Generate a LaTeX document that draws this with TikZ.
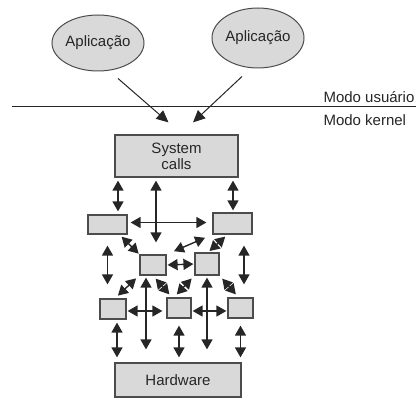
\documentclass[tikz,border=0pt]{standalone}
\usepackage{fontspec}
\setmainfont{Liberation Sans}
\usetikzlibrary{shapes.geometric,arrows.meta}
\definecolor{boxgray}{gray}{0.85}
\definecolor{linegray}{gray}{0.3}
\begin{document}
\begin{tikzpicture}[x=1pt, y=-1pt, font=\fontsize{15}{16}\selectfont, text=black!85,
		app/.style={ellipse, draw=linegray, fill=boxgray, line width=1pt, inner sep=0pt},
		blk/.style={rectangle, draw=linegray, fill=boxgray, line width=1.2pt, inner sep=0pt, align=center},
		dbl/.style={{Triangle[length=10pt,width=11pt]}-{Triangle[length=10pt,width=11pt]}, line width=1.4pt, draw=black!85},
		arr/.style={-{Triangle[length=12pt,width=11pt]}, line width=1pt, draw=black!85}]
		\useasboundingbox (0,0) rectangle (416,398);
		\node[app, minimum width=92pt, minimum height=56pt] (app1) at (98,43) {Aplicação};
		\node[app, minimum width=92pt, minimum height=60pt] (app2) at (258,38) {Aplicação};
		\draw[line width=1pt, draw=black!85] (12,107) -- (416,107);
		\node[anchor=west] (user) at (320,97) {Modo usuário};
		\node[anchor=west] (kern) at (320,120) {Modo kernel};
		\node[blk, minimum width=123pt, minimum height=42pt] (sys) at (176.5,156) {System\\calls};
		\node[blk, minimum width=39pt, minimum height=19pt] (a) at (107.5,224.5) {};
		\node[blk, minimum width=39pt, minimum height=21pt] (b) at (232.5,223.5) {};
		\node[blk, minimum width=26pt, minimum height=20pt] (c) at (153,265) {};
		\node[blk, minimum width=24pt, minimum height=22pt] (d) at (207,264) {};
		\node[blk, minimum width=26pt, minimum height=20pt] (e) at (113,309) {};
		\node[blk, minimum width=24pt, minimum height=20pt] (f) at (179,308) {};
		\node[blk, minimum width=25pt, minimum height=20pt] (g) at (240.5,308) {};
		\node[blk, minimum width=126pt, minimum height=34pt] (hw) at (178,380) {Hardware};
		\draw[arr] ([shift={(20,7)}]app1.south) -- ([shift={(-8,-12)}]sys.north);
		\draw[arr] ([shift={(-16,8)}]app2.south) -- ([shift={(16.5,-12)}]sys.north);
		\draw[dbl, shorten <=3pt, shorten >=3pt] ([xshift=-58.5pt]sys.south) -- ([xshift=10.5pt]a.north);
		\draw[dbl, shorten <=3pt, shorten >=12pt] ([xshift=-20.5pt]sys.south) -- ([xshift=3pt]c.north);
		\draw[dbl, shorten <=3pt, shorten >=2pt] ([xshift=56.5pt]sys.south) -- ([xshift=0.5pt]b.north);
		\draw[dbl, shorten <=3pt, shorten >=6pt] ([yshift=2pt]a.east) -- ([yshift=1pt]b.west);
		\draw[dbl, shorten <=3pt, shorten >=1pt] ([xshift=12pt]a.south) -- (c.north west);
		\draw[dbl, shorten <=8pt, shorten >=8pt] (c.north east) -- (b.south west);
		\draw[dbl, shorten <=3pt, shorten >=2pt] ([xshift=-5pt]b.south) -- ([xshift=1pt]d.north);
		\draw[dbl, shorten <=11pt, shorten >=14pt] (a.south) -- ([xshift=-5.5pt]e.north);
		\draw[dbl, shorten <=11pt, shorten >=13pt] ([xshift=11.5pt]b.south) -- ([xshift=3.5pt]g.north);
		\draw[dbl, shorten <=1pt, shorten >=1pt] (c.east) -- (d.west);
		\draw[dbl, shorten <=4pt, shorten >=4pt] ([xshift=-14pt]c.south) -- ([xshift=2pt]e.north);
		\draw[dbl, shorten <=4pt, shorten >=4pt] (c.south) -- ([xshift=-7pt]f.north);
		\draw[dbl, shorten <=4pt, shorten >=4pt] (d.south west) -- ([xshift=-5pt]f.north);
		\draw[dbl, shorten <=4pt, shorten >=4pt] (d.south east) -- ([xshift=-2pt]g.north);
		\draw[dbl, shorten <=2pt, shorten >=13pt] ([xshift=-7pt]c.south) -- ([xshift=-32pt]hw.north);
		\draw[dbl, shorten <=2pt, shorten >=13pt] (d.south) -- ([xshift=29pt]hw.north);
		\draw[dbl, shorten <=1pt, shorten >=4pt] ([yshift=-2pt]e.east) -- ([yshift=-3pt]f.west);
		\draw[dbl, shorten <=1pt, shorten >=1pt] ([yshift=-3pt]f.east) -- ([yshift=-3pt]g.west);
		\draw[dbl, shorten <=3pt, shorten >=5pt] ([xshift=4pt]e.south) -- ([xshift=-61pt]hw.north);
		\draw[dbl, shorten <=7pt, shorten >=5pt] (f.south) -- ([xshift=1pt]hw.north);
		\draw[dbl, shorten <=7pt, shorten >=5pt] (g.south) -- ([xshift=62.5pt]hw.north);
	\end{tikzpicture}
\end{document}
